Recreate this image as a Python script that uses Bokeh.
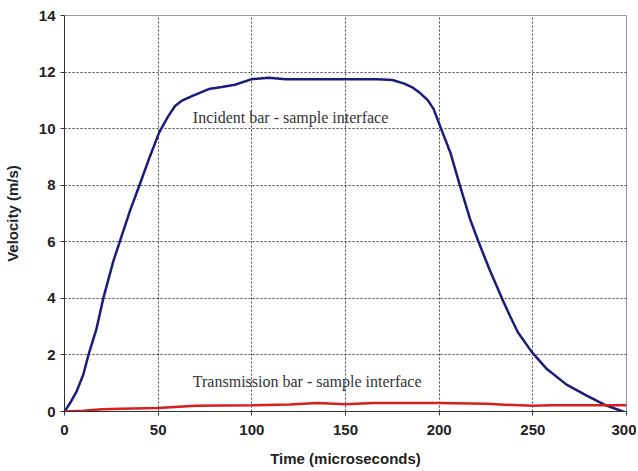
from bokeh.plotting import figure
from bokeh.models import FixedTicker, Label
from bokeh.embed import file_html
from bokeh.resources import INLINE

# Incident bar - sample interface (time in microseconds, velocity in m/s)
incident_t = [0, 3, 6.4, 10, 12.8, 17, 20.7, 26, 30, 35, 40, 45.5, 50.5, 55, 59, 63, 68,
              77, 84, 91, 100, 109, 118, 137, 146, 167, 175, 181, 186, 190, 194, 197,
              201, 206, 211, 216.5, 221, 227, 233.5, 238, 242, 249.5, 257.5, 268, 279, 289,
              298, 300]
incident_v = [0, 0.3, 0.7, 1.3, 2.0, 2.9, 4.0, 5.3, 6.1, 7.1, 8.0, 9.0, 9.86, 10.4, 10.8,
              11.0, 11.15, 11.4, 11.47, 11.55, 11.75, 11.8, 11.75, 11.75, 11.75, 11.75,
              11.72, 11.6, 11.45, 11.25, 11.0, 10.7, 10.0, 9.15, 8.0, 6.8, 6.0, 5.0, 4.0,
              3.35, 2.8, 2.1, 1.5, 0.95, 0.55, 0.22, 0.0, -0.05]

# Transmission bar - sample interface
trans_t = [0, 10, 20, 30, 50, 70, 100, 120, 135, 150, 165, 200, 225, 250, 260, 280, 300]
trans_v = [0, 0.03, 0.08, 0.1, 0.12, 0.2, 0.22, 0.25, 0.3, 0.26, 0.3, 0.3, 0.27, 0.2,
           0.22, 0.22, 0.22]

x_ticks = [0, 50, 100, 150, 200, 250, 300]
y_ticks = [0, 2, 4, 6, 8, 10, 12, 14]

x_label = "Time (microseconds)"
y_label = "Velocity (m/s)"
incident_label = "Incident bar - sample interface"
trans_label = "Transmission bar - sample interface"

p = figure(width=636, height=469, x_range=(0, 300), y_range=(0, 14),
           output_backend="svg", toolbar_location=None,
           min_border_left=63, min_border_right=10, min_border_top=15, min_border_bottom=56)

p.background_fill_color = "white"
p.border_fill_color = "white"
p.outline_line_color = "#9a9a9a"
p.outline_line_width = 1

p.line(incident_t, incident_v, line_color="#1c1c7c", line_width=2.5)
p.line(trans_t, trans_v, line_color="#d81e1e", line_width=2.5)

p.xaxis.ticker = FixedTicker(ticks=x_ticks)
p.yaxis.ticker = FixedTicker(ticks=y_ticks)

for ax in (p.xaxis, p.yaxis):
    ax.major_label_text_font = "Liberation Sans"
    ax.major_label_text_font_style = "bold"
    ax.major_label_text_font_size = "15px"
    ax.major_label_text_color = "#222222"
    ax.axis_label_text_font = "Liberation Sans"
    ax.axis_label_text_font_style = "bold"
    ax.axis_label_text_font_size = "15px"
    ax.axis_label_text_color = "#222222"
    ax.axis_line_color = "#333333"
    ax.major_tick_line_color = "#333333"
    ax.major_tick_out = 4
    ax.major_tick_in = 0
    ax.minor_tick_line_color = None

p.xaxis.axis_label = x_label
p.yaxis.axis_label = y_label
p.xaxis.major_label_standoff = 9
p.xaxis.axis_label_standoff = 12
p.yaxis.major_label_standoff = 5
p.yaxis.axis_label_standoff = 15

for g in (p.xgrid, p.ygrid):
    g.grid_line_color = "#222222"
    g.grid_line_dash = "2 2"
    g.grid_line_width = 1
    g.grid_line_alpha = 0.85

p.add_layout(Label(x=68.5, y=10.4, text=incident_label, text_font="Liberation Serif",
                   text_font_size="16px", text_baseline="middle", text_color="#333333"))
p.add_layout(Label(x=68.5, y=1.06, text=trans_label, text_font="Liberation Serif",
                   text_font_size="16px", text_baseline="middle", text_color="#333333"))

open("out.html", "w").write(file_html(p, INLINE))
